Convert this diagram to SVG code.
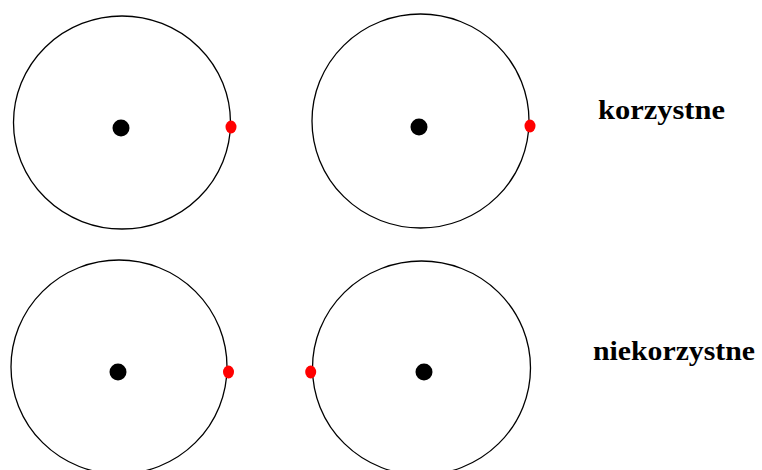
<svg xmlns="http://www.w3.org/2000/svg" width="762" height="470" viewBox="0 0 762 470">
<style>
.orb{fill:none;stroke:#000;stroke-width:1.3}
.nuc{fill:#000}
.el{fill:#ff0000}
.lbl{font-family:"Liberation Serif","Times New Roman",serif;font-weight:bold;font-size:27px;fill:#000}
</style>
<rect width="762" height="470" fill="#fff"/>
<g id="atom-tl">
<ellipse class="orb" cx="122" cy="122.5" rx="108.5" ry="106.5"/>
<circle class="nuc" cx="121" cy="128" r="8.5"/>
<ellipse class="el" cx="231" cy="127" rx="5.5" ry="6.5"/>
</g>
<g id="atom-tr">
<ellipse class="orb" cx="420.5" cy="121" rx="108.5" ry="107"/>
<circle class="nuc" cx="419" cy="127" r="8.5"/>
<ellipse class="el" cx="530" cy="126" rx="5.5" ry="6.5"/>
</g>
<g id="atom-bl">
<ellipse class="orb" cx="119" cy="367" rx="108" ry="107"/>
<circle class="nuc" cx="118" cy="372" r="8.5"/>
<ellipse class="el" cx="228.5" cy="372" rx="5.5" ry="6.5"/>
</g>
<g id="atom-br">
<ellipse class="orb" cx="421.5" cy="368" rx="109" ry="107"/>
<circle class="nuc" cx="424" cy="372" r="8.5"/>
<ellipse class="el" cx="310.7" cy="372" rx="5.5" ry="6.5"/>
</g>
<g id="labels">
<text class="lbl" x="598" y="119" textLength="127" lengthAdjust="spacingAndGlyphs">korzystne</text>
<text class="lbl" x="593" y="360" textLength="162" lengthAdjust="spacingAndGlyphs">niekorzystne</text>
</g>
<g id="connectors"></g>
</svg>
